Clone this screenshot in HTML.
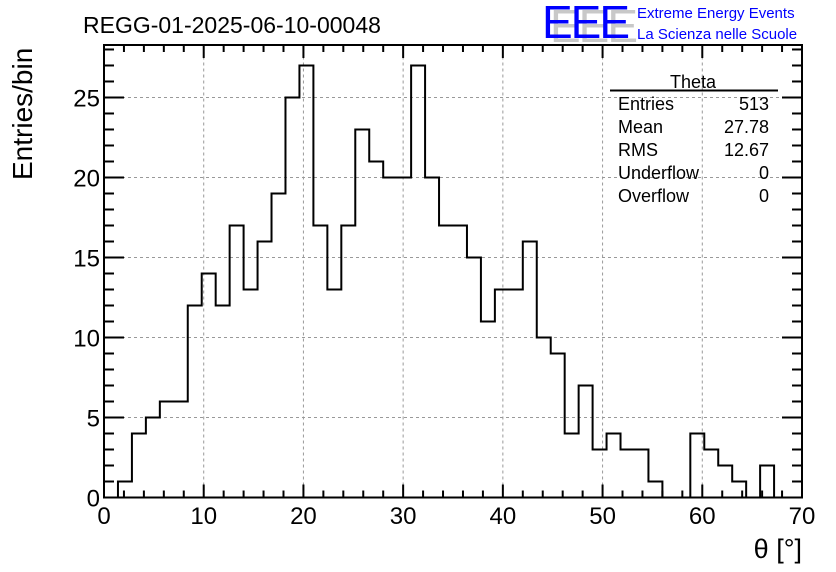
<!DOCTYPE html>
<html><head><meta charset="utf-8"><style>
body{margin:0;background:#fff;}
svg{display:block;font-family:"Liberation Sans",Arial,sans-serif;}
</style></head><body>
<svg id="chart" width="836" height="572" viewBox="0 0 836 572">
<rect width="836" height="572" fill="#fff"/>
<text x="83" y="33" font-size="23">REGG-01-2025-06-10-00048</text>
<g>
<text x="550" y="42" font-size="46" fill="#c8c8c8" letter-spacing="-2">EEE</text>
<text x="542" y="38" font-size="46" fill="#0000ff" letter-spacing="-2">EEE</text>
<text x="637" y="18" font-size="15" fill="#0000ff">Extreme Energy Events</text>
<text x="637" y="39" font-size="15" fill="#0000ff">La Scienza nelle Scuole</text>
</g>
<g id="grid"></g>
<g id="axes"></g>
<path id="hist" fill="none" stroke="#000" stroke-width="2"/>
<g font-size="18">
<text x="693" y="88" text-anchor="middle">Theta</text>
<line x1="610" y1="90.5" x2="778" y2="90.5" stroke="#000" stroke-width="2"/>
<text x="618" y="110">Entries</text><text x="769" y="110" text-anchor="end">513</text>
<text x="618" y="133">Mean</text><text x="769" y="133" text-anchor="end">27.78</text>
<text x="618" y="156">RMS</text><text x="769" y="156" text-anchor="end">12.67</text>
<text x="618" y="179">Underflow</text><text x="769" y="179" text-anchor="end">0</text>
<text x="618" y="202">Overflow</text><text x="769" y="202" text-anchor="end">0</text>
</g>
<text x="802" y="558" font-size="27" text-anchor="end">θ [°]</text>
<text transform="translate(32,180) rotate(-90)" font-size="28">Entries/bin</text>
</svg>
<script>
const binCounts = [0,1,4,5,6,6,12,14,12,17,13,16,19,25,27,17,13,17,23,21,20,20,27,20,17,17,15,11,13,13,16,10,9,4,7,3,4,3,3,1,0,0,4,3,2,1,0,2,0,0];
const binWidth = [1.4];
const xTicks = [0,10,20,30,40,50,60,70];
const yTicks = [0,5,10,15,20,25];
const NS='http://www.w3.org/2000/svg';
const X0=104,X1=802,Y0=497.5,Y1=45,XMAX=70,YMAX=28.28;
const sx=v=>X0+(X1-X0)*v/XMAX;
const sy=v=>Y0-(Y0-Y1)*v/YMAX;
function mk(t,a,p){const e=document.createElementNS(NS,t);for(const k in a)e.setAttribute(k,a[k]);p.appendChild(e);return e;}
const grid=document.getElementById('grid'),axes=document.getElementById('axes');
xTicks.forEach(v=>{if(v>0&&v<XMAX){const l=mk('line',{x1:sx(v),x2:sx(v),y1:Y0,y2:Y1,stroke:'#999','stroke-dasharray':'3,3'},grid);

}});
yTicks.forEach(v=>{if(v>0){const l=mk('line',{x1:X0,x2:X1,y1:sy(v),y2:sy(v),stroke:'#999','stroke-dasharray':'3,3'},grid);

}});
const frame=mk('rect',{x:X0,y:Y1,width:X1-X0,height:Y0-Y1,fill:'none',stroke:'#000','stroke-width':2},axes);


for(let v=0;v<=XMAX;v+=2){const maj=v%10===0,L=maj?13:7;
mk('line',{x1:sx(v),x2:sx(v),y1:Y0,y2:Y0-L,stroke:'#000','stroke-width':2},axes);
mk('line',{x1:sx(v),x2:sx(v),y1:Y1,y2:Y1+L,stroke:'#000','stroke-width':2},axes);}
for(let v=0;v<=28;v++){const maj=v%5===0,L=maj?20:10;
mk('line',{x1:X0,x2:X0+L,y1:sy(v),y2:sy(v),stroke:'#000','stroke-width':2},axes);
mk('line',{x1:X1,x2:X1-L,y1:sy(v),y2:sy(v),stroke:'#000','stroke-width':2},axes);}
xTicks.forEach(v=>{const t=mk('text',{x:sx(v),y:524,'font-size':24,'text-anchor':'middle'},axes);t.textContent=v;

});
yTicks.forEach(v=>{const t=mk('text',{x:X0-4,y:sy(v)+9,'font-size':24,'text-anchor':'end'},axes);t.textContent=v;

});
let d='M'+sx(0)+','+sy(0);
binCounts.forEach((c,i)=>{const a=i*binWidth[0],b=(i+1)*binWidth[0];d+=' L'+sx(a)+','+sy(c)+' L'+sx(b)+','+sy(c);});
d+=' L'+sx(binCounts.length*binWidth[0])+','+sy(0);
document.getElementById('hist').setAttribute('d',d);
</script>
</body></html>
